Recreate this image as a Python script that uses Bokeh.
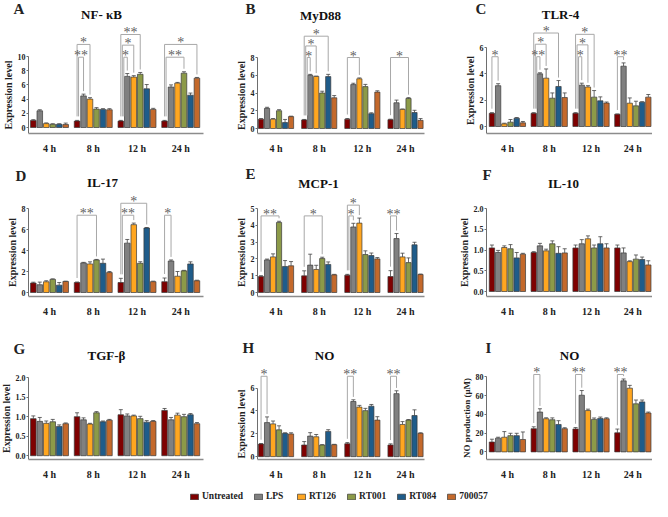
import numpy as np
from bokeh.plotting import figure
from bokeh.layouts import column, row
from bokeh.models import (ColumnDataSource, Whisker, TeeHead, FixedTicker, Label, LabelSet,
                          Legend, LegendItem, Range1d, PrintfTickFormatter)
from bokeh.embed import file_html
from bokeh.resources import INLINE

# ---------------- data ----------------
times = ["4 h", "8 h", "12 h", "24 h"]
treatments = ["Untreated", "LPS", "RT126", "RT001", "RT084", "700057"]
colors = ["#7F0000", "#808080", "#FFA620", "#8C9A48", "#1F5C8A", "#C4692B"]

# values ordered: 4 h (6 treatments), 8 h, 12 h, 24 h
nfkb_mean = [1.0, 2.35, 0.55, 0.45, 0.45, 0.42,
             0.9, 4.45, 4.0, 2.6, 2.55, 2.5,
             0.9, 7.2, 7.1, 7.5, 5.45, 2.55,
             0.9, 5.7, 6.25, 7.65, 4.55, 6.95]
nfkb_err = [0.1, 0.15, 0.1, 0.08, 0.08, 0.2,
            0.1, 0.25, 0.2, 0.2, 0.1, 0.15,
            0.1, 0.4, 0.2, 0.25, 0.6, 0.15,
            0.1, 0.3, 0.1, 0.2, 0.3, 0.1]
nfkb_sig = [(1, 1, 9.9, "**"), (1, 2, 11.7, "*"),
            (2, 1, 9.9, "*"), (2, 2, 11.6, "*"), (2, 3, 13.1, "**"),
            (3, 3, 9.9, "**"), (3, 5, 11.7, "*")]

myd88_mean = [1.05, 2.27, 1.05, 2.0, 0.67, 1.34,
              0.97, 6.0, 5.87, 4.0, 5.85, 3.46,
              1.05, 4.95, 5.6, 4.72, 1.67, 4.1,
              1.0, 2.9, 2.15, 3.38, 1.8, 0.92]
myd88_err = [0.07, 0.12, 0.07, 0.12, 0.35, 0.05,
             0.05, 0.1, 0.03, 0.2, 0.25, 0.25,
             0.07, 0.15, 0.1, 0.25, 0.1, 0.15,
             0.05, 0.3, 0.05, 0.1, 0.25, 0.2]
myd88_sig = [(1, 1, 8.0, "*"), (1, 2, 9.3, "*"), (1, 4, 10.4, "*"),
             (2, 2, 8.0, "*"), (3, 3, 8.0, "*")]

tlr4_mean = [1.0, 3.1, 0.2, 0.33, 0.63, 0.28,
             1.0, 4.0, 3.67, 2.15, 3.04, 2.2,
             1.0, 3.14, 3.0, 2.23, 1.95, 1.78,
             0.93, 4.58, 1.77, 1.57, 1.85, 2.23]
tlr4_err = [0.05, 0.15, 0.05, 0.2, 0.05, 0.1,
            0.05, 0.08, 0.7, 0.4, 0.45, 0.35,
            0.05, 0.15, 0.1, 0.5, 0.3, 0.08,
            0.02, 0.25, 0.4, 0.35, 0.03, 0.2]
tlr4_sig = [(0, 1, 5.3, "*"),
            (1, 1, 5.3, "**"), (1, 2, 6.25, "*"), (1, 4, 7.1, "*"),
            (2, 1, 5.3, "*"), (2, 2, 6.2, "*"), (2, 3, 7.0, "*"),
            (3, 1, 5.3, "**")]

il17_mean = [0.9, 0.74, 1.02, 1.25, 0.7, 1.05,
             0.95, 2.82, 2.72, 3.1, 2.78, 1.9,
             0.95, 4.7, 6.46, 2.78, 6.14, 1.03,
             1.03, 3.0, 1.55, 2.06, 2.72, 1.12]
il17_err = [0.08, 0.25, 0.1, 0.05, 0.25, 0.03,
            0.05, 0.05, 0.2, 0.05, 0.4, 0.1,
            0.4, 0.35, 0.15, 0.15, 0.05, 0.05,
            0.35, 0.1, 0.45, 0.05, 0.2, 0.05]
il17_sig = [(1, 3, 7.36, "**"),
            (2, 2, 7.36, "**"), (2, 4, 8.5, "*"),
            (3, 1, 7.36, "*")]

mcp1_mean = [0.95, 1.94, 2.12, 4.17, 1.55, 1.59,
             0.99, 1.63, 1.37, 2.02, 1.67, 1.05,
             1.03, 3.9, 4.13, 2.26, 2.2, 2.0,
             0.95, 3.21, 2.12, 1.78, 2.84, 1.07]
mcp1_err = [0.05, 0.05, 0.18, 0.07, 0.35, 0.25,
            0.3, 0.65, 0.25, 0.08, 0.15, 0.03,
            0.05, 0.22, 0.3, 0.22, 0.15, 0.08,
            0.35, 0.3, 0.22, 0.28, 0.15, 0.03]
mcp1_sig = [(0, 3, 4.56, "**"), (1, 3, 4.56, "*"),
            (2, 1, 4.56, "*"), (2, 2, 5.2, "*"),
            (3, 1, 4.56, "**")]

il10_mean = [1.05, 0.94, 1.06, 1.03, 0.81, 0.9,
             0.94, 1.1, 0.98, 1.15, 0.92, 0.93,
             1.05, 1.15, 1.27, 1.05, 1.15, 1.05,
             1.05, 0.93, 0.72, 0.78, 0.77, 0.64]
il10_err = [0.07, 0.05, 0.04, 0.1, 0.13, 0.02,
            0.02, 0.06, 0.04, 0.07, 0.16, 0.1,
            0.07, 0.1, 0.07, 0.07, 0.17, 0.1,
            0.07, 0.12, 0.02, 0.1, 0.06, 0.1]
il10_sig = []

tgfb_mean = [0.95, 0.88, 0.83, 0.87, 0.75, 0.82,
             1.0, 0.92, 0.81, 1.1, 0.87, 0.91,
             1.05, 1.02, 1.02, 0.95, 0.86, 0.88,
             1.16, 0.92, 1.04, 1.0, 1.05, 0.82]
tgfb_err = [0.07, 0.1, 0.06, 0.06, 0.04, 0.02,
            0.1, 0.05, 0.02, 0.03, 0.02, 0.02,
            0.13, 0.05, 0.02, 0.06, 0.04, 0.02,
            0.05, 0.06, 0.05, 0.06, 0.03, 0.03]
tgfb_sig = []

no_mean = [1.1, 2.98, 2.87, 2.35, 2.04, 1.99,
           1.02, 1.8, 1.74, 1.02, 2.21, 1.05,
           1.13, 4.83, 4.34, 4.03, 4.42, 3.2,
           1.02, 5.52, 2.82, 3.2, 3.6, 2.04]
no_err = [0.05, 0.5, 0.25, 0.35, 0.05, 0.1,
          0.3, 0.3, 0.2, 0.03, 0.15, 0.03,
          0.1, 0.15, 0.15, 0.2, 0.15, 0.3,
          0.1, 0.25, 0.25, 0.05, 0.5, 0.05]
no_sig = [(0, 1, 7.04, "*"), (2, 1, 7.04, "**"), (3, 1, 7.04, "**")]

noprod_mean = [10.5, 14.6, 15.6, 17.3, 17.3, 13.2,
               24.7, 42.4, 35.3, 34.2, 29.2, 24.7,
               24.4, 60.3, 44.0, 34.6, 35.6, 35.3,
               20.3, 75.6, 67.8, 51.2, 53.2, 41.4]
noprod_err = [3, 1, 6, 2.5, 2.5, 8,
              2, 3.5, 1, 2, 4, 1,
              1.5, 5, 1.5, 1.5, 1.5, 1,
              4, 2, 3, 4, 2, 1]
noprod_sig = [(1, 1, 82.4, "*"), (2, 1, 82.4, "**"), (3, 1, 82.4, "**")]

# ---------------- layout ----------------
SERIF = "Liberation Serif"
col_w = [218, 220, 214]
col_left = [28, 39, 48]          # pixel position of the y axis in each column
col_fw = [175, 167, 166]         # pixel length of the x axis
col_xr = [(-0.48, 3.52), (-0.43, 3.44), (-0.5, 3.47)]
col_step = [0.148, 0.139, 0.148]
row_h = [165, 157, 160]
row_pb = [133, 131, 144]
LEG_H = 19

panels = [
    # letter, title, ylabel, label size, mean, err, sig, ticks, fmt, col, row, p0, pT, title(x,y), letter(x,y)
    ("A", "NF- \u03baB", "Expression level", "10px", nfkb_mean, nfkb_err, nfkb_sig, [0, 2, 4, 6, 8, 10], None, 0, 0, 127, 56, (101, 14), (13, 8)),
    ("B", "MyD88", "Expression level", "10px", myd88_mean, myd88_err, myd88_sig, [0, 2, 4, 6, 8], None, 1, 0, 128, 57, (102, 15), (27, 8)),
    ("C", "TLR-4", "Expression level", "10px", tlr4_mean, tlr4_err, tlr4_sig, [0, 2, 4, 6], None, 2, 0, 126, 47, (122, 14), (37, 8)),
    ("D", "IL-17", "Expression level", "10px", il17_mean, il17_err, il17_sig, [0, 2, 4, 6, 8], None, 0, 1, 127, 43, (102, 17), (15, 10)),
    ("E", "MCP-1", "Expression level", "10px", mcp1_mean, mcp1_err, mcp1_sig, [0, 1, 2, 3, 4, 5], None, 1, 1, 127, 43, (100, 18), (27, 8)),
    ("F", "IL-10", "Expression level", "10px", il10_mean, il10_err, il10_sig, [0, 0.5, 1.0, 1.5, 2.0], "%.1f", 2, 1, 126, 43, (125, 18), (44, 9)),
    ("G", "TGF-\u03b2", "Expression level", "10px", tgfb_mean, tgfb_err, tgfb_sig, [0, 0.5, 1.0, 1.5, 2.0], "%.1f", 0, 2, 140, 58, (106, 35), (13, 28)),
    ("H", "NO", "Expression level", "10px", no_mean, no_err, no_sig, [0, 2, 4, 6], None, 1, 2, 141, 69, (106, 35), (24, 27)),
    ("I", "NO", "NO production (\u03bcM)", "9px", noprod_mean, noprod_err, noprod_sig, [0, 20, 40, 60, 80], None, 2, 2, 136, 57, (131, 35), (47, 27)),
]


def make_panel(spec):
    (letter, title, ylabel, lsize, mean, err, sig, ticks, fmt, c, r, p0, pT, tpos, lpos) = spec
    mean = np.array(mean, dtype=float)
    err = np.array(err, dtype=float)
    T = ticks[-1]
    H = row_h[r]
    pb = row_pb[r]
    s = (p0 - pT) / T
    y0 = -(pb - p0) / s
    y1 = p0 / s
    xr = col_xr[c]
    fw = col_fw[c]
    left = col_left[c]
    W = col_w[c]
    ppx = fw / (xr[1] - xr[0])
    step = col_step[c]
    x_lo = xr[0] - left / ppx
    x_hi = xr[0] + (W - left) / ppx

    p = figure(width=W, height=H, x_range=Range1d(x_lo, x_hi), y_range=Range1d(y0, y1),
               toolbar_location=None, output_backend="svg",
               min_border_left=0, min_border_right=0,
               min_border_top=0, min_border_bottom=H - pb,
               outline_line_color=None, background_fill_color="white",
               border_fill_color="white")
    p.xgrid.visible = False
    p.ygrid.visible = False

    g = np.repeat(np.arange(4), 6)
    i = np.tile(np.arange(6), 4)
    xs = g + (i - 2.5) * step
    src = ColumnDataSource(dict(x=xs, top=mean, upper=mean + err, lower=mean,
                                color=[colors[k] for k in i]))
    p.vbar(x="x", top="top", bottom=0, width=step * 0.86, fill_color="color",
           line_color="#3a3a3a", line_width=0.7, source=src)
    p.add_layout(Whisker(base="x", upper="upper", lower="lower", source=src,
                         dimension="height", line_color="#444444", line_width=0.8,
                         upper_head=TeeHead(size=4, line_color="#444444", line_width=0.8),
                         lower_head=None))

    # significance brackets
    if sig:
        bx, by, tx, ty, tt = [], [], [], [], []
        ngrp = {}
        for (gi, ti, lvl, lab) in sig:
            ngrp[gi] = ngrp.get(gi, 0) + 1
        seen = {}
        for (gi, ti, lvl, lab) in sig:
            k = seen.get(gi, 0)
            seen[gi] = k + 1
            off = (ngrp[gi] - 1 - k) * 1.5 / ppx
            xl = gi - 2.5 * step + off
            xrr = gi + (ti - 2.5) * step
            yl = mean[gi * 6] + err[gi * 6] + 4 / s
            yr = mean[gi * 6 + ti] + err[gi * 6 + ti] + 3 / s
            bx.append([xl, xl, xrr, xrr])
            by.append([yl, lvl, lvl, yr])
            tx.append((xl + xrr) / 2)
            ty.append(lvl)
            tt.append(lab)
        p.multi_line(bx, by, line_color="#a8a8a8", line_width=1)
        ssrc = ColumnDataSource(dict(x=tx, y=ty, t=tt))
        p.add_layout(LabelSet(x="x", y="y", text="t", source=ssrc, text_font=SERIF,
                              text_font_size="14px", text_color="#606060",
                              text_align="center", text_baseline="alphabetic",
                              y_offset=-3))

    # axes
    p.yaxis.fixed_location = xr[0]
    p.yaxis.ticker = FixedTicker(ticks=ticks)
    p.yaxis.bounds = (y0, T)
    if fmt:
        p.yaxis.formatter = PrintfTickFormatter(format=fmt)
    p.yaxis.axis_label = ylabel
    p.yaxis.axis_label_text_font = SERIF
    p.yaxis.axis_label_text_font_style = "bold"
    p.yaxis.axis_label_text_font_size = lsize
    p.yaxis.axis_label_text_color = "#222222"
    p.yaxis.axis_label_standoff = 1
    p.yaxis.major_label_text_font = SERIF
    p.yaxis.major_label_text_font_style = "bold"
    p.yaxis.major_label_text_font_size = "8px"
    p.yaxis.major_label_text_color = "#222222"
    p.yaxis.major_label_standoff = 1
    p.yaxis.major_tick_out = 2
    p.yaxis.major_tick_in = 0
    p.yaxis.minor_tick_line_color = None
    p.yaxis.axis_line_color = "#6e6e6e"
    p.yaxis.major_tick_line_color = "#6e6e6e"

    p.xaxis.ticker = FixedTicker(ticks=[0, 1, 2, 3])
    p.xaxis.bounds = xr
    p.xaxis.major_label_overrides = {k: t for k, t in enumerate(times)}
    p.xaxis.major_label_text_font = SERIF
    p.xaxis.major_label_text_font_style = "bold"
    p.xaxis.major_label_text_font_size = "10px"
    p.xaxis.major_label_text_color = "#222222"
    p.xaxis.major_label_standoff = 3
    p.xaxis.major_tick_line_color = None
    p.xaxis.minor_tick_line_color = None
    p.xaxis.axis_line_color = "#8c8c8c"
    p.xaxis.axis_line_width = 1.3

    # title and panel letter (positions given in figure pixels)
    def to_data(px, py):
        return xr[0] + (px - left) / ppx, (p0 - py) / s

    tx_, ty_ = to_data(*tpos)
    p.add_layout(Label(x=tx_, y=ty_, text=title, text_font=SERIF, text_font_style="bold",
                       text_font_size="13px", text_color="#111111", text_align="center",
                       text_baseline="middle"))
    lx_, ly_ = to_data(*lpos)
    p.add_layout(Label(x=lx_, y=ly_, text=letter, text_font=SERIF, text_font_style="bold",
                       text_font_size="15px", text_color="#222222", text_align="left",
                       text_baseline="middle"))
    return p


figs = [make_panel(sp) for sp in panels]

# legend strip (swatch renderers hold one zero-size row placed outside the visible range)
lg = figure(width=sum(col_w), height=LEG_H, toolbar_location=None, output_backend="svg",
            x_axis_type=None, y_axis_type=None, min_border=0, outline_line_color=None,
            x_range=Range1d(0, 1), y_range=Range1d(0, 1))
items = []
for name, col in zip(treatments, colors):
    rr = lg.vbar(x=[3], top=[0], bottom=[0], width=0, fill_color=col, line_color="#3a3a3a",
                 line_width=0.7)
    items.append(LegendItem(label=name, renderers=[rr]))
leg = Legend(items=items, orientation="horizontal", location=(189, 0),
             glyph_width=10, glyph_height=7, label_standoff=3, spacing=10,
             padding=0, margin=0, border_line_color=None, background_fill_alpha=0,
             label_text_font=SERIF, label_text_font_style="bold",
             label_text_font_size="9.5px", label_text_color="#222222")
lg.add_layout(leg, "center")

layout = column(row(*figs[0:3]), row(*figs[3:6]), row(*figs[6:9]), lg)

open("out.html", "w").write(file_html(layout, INLINE))
